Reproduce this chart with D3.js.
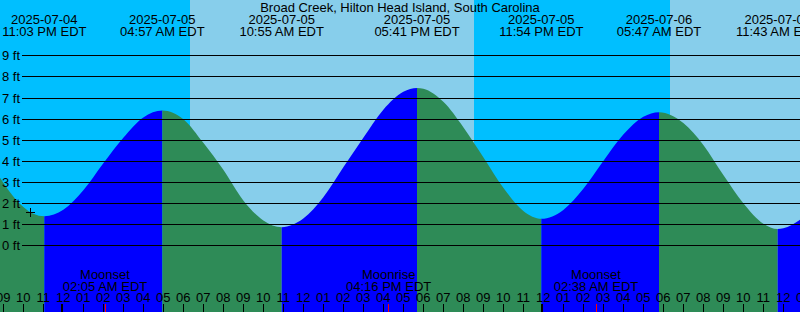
<!DOCTYPE html>
<html>
<head>
<meta charset="utf-8">
<script src="https://cdn.jsdelivr.net/npm/d3@7"></script>
<style>
  html, body { margin: 0; padding: 0; background: #fff; }
  svg { display: block; font-family: "Liberation Sans", Arial, sans-serif; font-size: 13px; }
</style>
</head>
<body>
<div class="chart"></div>
<script>
// window shown on the graph
var domainStart = "2025-07-04 20:50";
var domainEnd = "2025-07-06 12:50";

var title = "Broad Creek, Hilton Head Island, South Carolina";

// high / low tide events
var eventTimes = ["2025-07-04 23:03", "2025-07-05 04:57", "2025-07-05 10:55", "2025-07-05 17:41",
                  "2025-07-05 23:54", "2025-07-06 05:47", "2025-07-06 11:43"];
var eventHeights = [1.40, 6.41, 0.88, 7.48, 1.28, 6.33, 0.80];

// water level (ft)
var sampleTimes = ["2025-07-04 20:50", "2025-07-04 21:00", "2025-07-04 21:30", "2025-07-04 22:00",
                   "2025-07-04 22:30", "2025-07-05 00:00", "2025-07-05 01:00", "2025-07-05 02:00",
                   "2025-07-05 03:00", "2025-07-05 04:00", "2025-07-05 06:00", "2025-07-05 07:00",
                   "2025-07-05 08:00", "2025-07-05 09:00", "2025-07-05 10:00", "2025-07-05 12:00",
                   "2025-07-05 13:00", "2025-07-05 14:00", "2025-07-05 15:00", "2025-07-05 16:00",
                   "2025-07-05 17:00", "2025-07-05 18:00", "2025-07-05 19:00", "2025-07-05 20:00",
                   "2025-07-05 21:00", "2025-07-05 22:00", "2025-07-05 23:00", "2025-07-06 01:00",
                   "2025-07-06 02:00", "2025-07-06 03:00", "2025-07-06 04:00", "2025-07-06 05:00",
                   "2025-07-06 07:00", "2025-07-06 08:00", "2025-07-06 09:00", "2025-07-06 10:00",
                   "2025-07-06 11:00", "2025-07-06 12:00", "2025-07-06 12:50"];
var sampleHeights = [3.22, 2.99, 2.34, 1.84,
                     1.52, 1.71, 2.63, 3.91,
                     5.12, 6.08, 6.00, 4.88,
                     3.60, 2.15, 1.20, 1.29,
                     2.30, 3.72, 5.12, 6.45,
                     7.30, 7.44, 6.82, 5.62,
                     4.20, 2.75, 1.65, 1.70,
                     2.70, 4.02, 5.27, 6.11,
                     5.82, 4.78, 3.35, 2.02,
                     1.05, 0.83, 1.23];

// sunrise / sunset -> night spans
var nightStarts = ["2025-07-04 20:50", "2025-07-05 20:32"];
var nightEnds = ["2025-07-05 06:20", "2025-07-06 06:20"];

var moonTimes = ["2025-07-05 02:05", "2025-07-05 16:16", "2025-07-06 02:38"];
var moonLabels = ["Moonset", "Moonrise", "Moonset"];

var depthTicks = [0, 1, 2, 3, 4, 5, 6, 7, 8, 9];

var nowTime = "2025-07-04 22:20";
var nowHeight = 1.60;

var svgWidth = 800, svgHeight = 312;
var parse = d3.utcParse("%Y-%m-%d %H:%M");
var fmtDate = d3.utcFormat("%Y-%m-%d");
var fmtTime = d3.utcFormat("%I:%M %p EDT");

var x = d3.scaleUtc()
	.domain([parse(domainStart), parse(domainEnd)])
	.range([0, svgWidth]);

var y = d3.scaleLinear()
	.domain([0, 9])
	.range([245.8, 55.8]);

var svg = d3.select(".chart")
	.append("svg")
	.attr("width", svgWidth)
	.attr("height", svgHeight);

// sky
svg.append("rect")
	.attr("width", svgWidth)
	.attr("height", svgHeight)
	.attr("fill", "#87ceeb");

svg.selectAll(".night")
	.data(nightStarts)
	.enter()
	.append("rect")
	.attr("class", "night")
	.attr("x", function (d) { return x(parse(d)); })
	.attr("width", function (d, i) { return x(parse(nightEnds[i])) - x(parse(d)); })
	.attr("y", 0)
	.attr("height", svgHeight)
	.attr("fill", "#00bfff");

// tide curve: samples plus events, sorted by time
var points = sampleTimes.map(function (t, i) {
	return { t: parse(t), h: sampleHeights[i] };
}).concat(eventTimes.map(function (t, i) {
	return { t: parse(t), h: eventHeights[i] };
}));
points.sort(function (a, b) { return a.t - b.t; });

var area = d3.area()
	.x(function (d) { return x(d.t); })
	.y0(svgHeight)
	.y1(function (d) { return y(d.h); })
	.curve(d3.curveMonotoneX);

// rising = blue, falling = green, split at each event
var bounds = [domainStart].concat(eventTimes).concat([domainEnd]);
var defs = svg.append("defs");
for (var i = 0; i < bounds.length - 1; i++) {
	var x0 = x(parse(bounds[i])), x1 = x(parse(bounds[i + 1]));
	var rising;
	if (i < eventTimes.length) {
		// segment ends at event i: rising if that event is a high
		var prev = i > 0 ? eventHeights[i - 1] : eventHeights[i + 1];
		rising = eventHeights[i] > prev;
	} else {
		rising = eventHeights[i - 1] < eventHeights[i - 2];
	}
	defs.append("clipPath")
		.attr("id", "seg" + i)
		.append("rect")
		.attr("x", x0)
		.attr("width", x1 - x0)
		.attr("y", 0)
		.attr("height", svgHeight);
	svg.append("path")
		.datum(points)
		.attr("d", area)
		.attr("clip-path", "url(#seg" + i + ")")
		.attr("fill", rising ? "#0000ff" : "#2e8b57");
}

// depth lines
svg.selectAll(".depth")
	.data(depthTicks)
	.enter()
	.append("line")
	.attr("class", "depth")
	.attr("x1", 22)
	.attr("x2", svgWidth)
	.attr("y1", function (d) { return Math.floor(y(d)) + 0.5; })
	.attr("y2", function (d) { return Math.floor(y(d)) + 0.5; })
	.attr("stroke", "#000")
	.attr("stroke-width", 1);

svg.selectAll(".depthLabel")
	.data(depthTicks)
	.enter()
	.append("text")
	.attr("x", 2)
	.attr("y", function (d) { return Math.floor(y(d)) + 5; })
	.text(function (d) { return d + " ft"; });

// now marker
var nx = Math.round(x(parse(nowTime))) + 0.5, ny = Math.round(y(nowHeight)) + 0.5;
svg.append("path")
	.attr("d", "M" + (nx - 4.5) + "," + ny + "H" + (nx + 4.5) + "M" + nx + "," + (ny - 4.5) + "V" + (ny + 4.5))
	.attr("stroke", "#000")
	.attr("stroke-width", 1);

// header
svg.append("text")
	.attr("x", svgWidth / 2)
	.attr("y", 12)
	.attr("text-anchor", "middle")
	.text(title);

var ev = svg.selectAll(".event")
	.data(eventTimes)
	.enter()
	.append("g")
	.attr("transform", function (d) { return "translate(" + x(parse(d)) + ",0)"; });
ev.append("text")
	.attr("y", 24)
	.attr("text-anchor", "middle")
	.text(function (d) { return fmtDate(parse(d)); });
ev.append("text")
	.attr("y", 36)
	.attr("text-anchor", "middle")
	.text(function (d) { return fmtTime(parse(d)); });

// moon events
var moon = svg.selectAll(".moon")
	.data(moonTimes)
	.enter()
	.append("g")
	.attr("transform", function (d) { return "translate(" + x(parse(d)) + ",0)"; });
moon.append("text")
	.attr("y", 279)
	.attr("text-anchor", "middle")
	.text(function (d, i) { return moonLabels[i]; });
moon.append("text")
	.attr("y", 291)
	.attr("text-anchor", "middle")
	.text(function (d) { return fmtTime(parse(d)); });

// hour axis
var hours = d3.utcHour.range(x.domain()[0], d3.utcHour.offset(x.domain()[1], 1));
svg.selectAll(".hourLabel")
	.data(hours)
	.enter()
	.append("text")
	.attr("x", function (d) { return x(d); })
	.attr("y", 302)
	.attr("text-anchor", "middle")
	.text(d3.utcFormat("%I"));

svg.selectAll(".hourTick")
	.data(hours)
	.enter()
	.append("rect")
	.attr("x", function (d) { return d.getUTCHours() === 0 ? Math.floor(x(d)) - 2 : Math.floor(x(d)); })
	.attr("width", function (d) { return d.getUTCHours() === 0 ? 2 : 1; })
	.attr("y", 304)
	.attr("height", 8)
	.attr("fill", "#000");

svg.selectAll(".moonTick")
	.data(moonTimes)
	.enter()
	.append("rect")
	.attr("x", function (d) { return Math.floor(x(parse(d))); })
	.attr("width", 1)
	.attr("y", 304)
	.attr("height", 8)
	.attr("fill", "#ff0000");
</script>
</body>
</html>
